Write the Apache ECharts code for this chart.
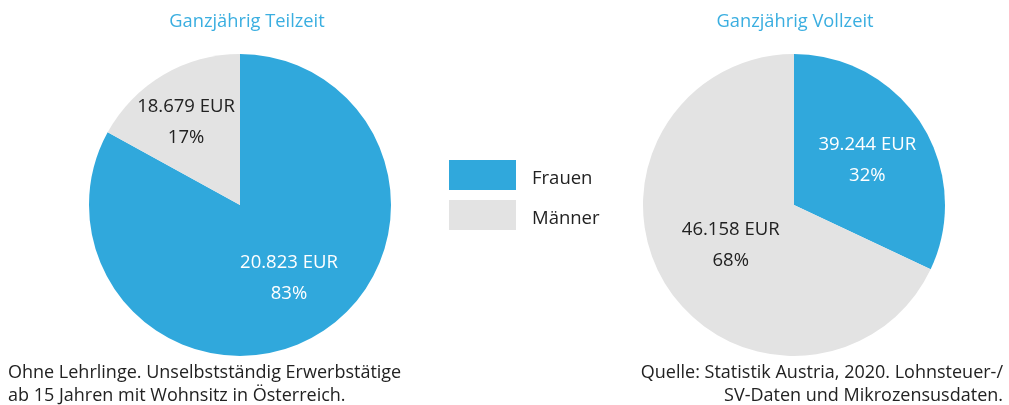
<!DOCTYPE html>
<html>
<head>
<meta charset="utf-8">
<script src="https://cdn.jsdelivr.net/npm/echarts@6/dist/echarts.min.js"></script>
<style>
  html, body { margin: 0; padding: 0; background: #fff; }
  #chart { width: 1009px; height: 405px; }
</style>
</head>
<body>
<div id="chart"></div>
<script>
// Daten
const categories = ['Frauen', 'Männer']
const titles = ['Ganzjährig Teilzeit', 'Ganzjährig Vollzeit']
const teilzeitShare = [83, 17]
const teilzeitEur = ['20.823 EUR', '18.679 EUR']
const vollzeitShare = [32, 68]
const vollzeitEur = ['39.244 EUR', '46.158 EUR']
const noteLeft = 'Ohne Lehrlinge. Unselbstständig Erwerbstätige\nab 15 Jahren mit Wohnsitz in Österreich.'
const noteRight = 'Quelle: Statistik Austria, 2020. Lohnsteuer-/\nSV-Daten und Mikrozensusdaten.'

const BLUE = '#30a8dc'
const GREY = '#e3e3e3'
const FONT = '"Open Sans", sans-serif'

// label offsets per slice (Frauen, Männer)
const offsetsLeft = [[9, 6], [-14, -15]]
const offsetsRight = [[7, -3], [3, -2]]

function makeData(shares, eur, offsets) {
  return shares.map((v, i) => ({
    name: categories[i],
    value: v,
    eur: eur[i],
    itemStyle: { color: i === 0 ? BLUE : GREY },
    label: {
      color: i === 0 ? '#ffffff' : '#222222',
      offset: offsets[i]
    }
  }))
}

function pieSeries(center, shares, eur, offsets) {
  return {
    type: 'pie',
    center: center,
    radius: 151,
    startAngle: 90,
    clockwise: true,
    silent: true,
    animation: false,
    labelLine: { show: false },
    label: {
      show: true,
      position: 'inside',
      fontFamily: FONT,
      fontSize: 18.5,
      lineHeight: 31,
      formatter: p => p.data.eur + '\n' + p.value + '%'
    },
    data: makeData(shares, eur, offsets)
  }
}

const chart = echarts.init(document.getElementById('chart'))
chart.setOption({
  backgroundColor: '#ffffff',
  title: [{
    text: titles[0],
    left: 247,
    top: 13,
    padding: 0,
    textAlign: 'center',
    textStyle: { color: '#3aaee0', fontFamily: FONT, fontSize: 18.3, fontWeight: 'normal' }
  }, {
    text: titles[1],
    left: 795,
    top: 13,
    padding: 0,
    textAlign: 'center',
    textStyle: { color: '#3aaee0', fontFamily: FONT, fontSize: 18.3, fontWeight: 'normal' }
  }, {
    text: noteLeft,
    left: 8,
    top: 361,
    padding: 0,
    textStyle: { color: '#222', fontFamily: FONT, fontSize: 18, fontWeight: 'normal', lineHeight: 23 }
  }, {
    text: noteRight,
    left: 1003,
    top: 361,
    padding: 0,
    textAlign: 'right',
    textStyle: { color: '#222', fontFamily: FONT, fontSize: 18, fontWeight: 'normal', lineHeight: 23, align: 'right' }
  }],
  legend: {
    data: categories,
    orient: 'vertical',
    left: 449,
    top: 160,
    padding: 0,
    itemWidth: 67,
    itemHeight: 30,
    itemGap: 10,
    icon: 'rect',
    selectedMode: false,
    formatter: name => '{t|' + name + '}',
    textStyle: {
      color: '#222',
      fontFamily: FONT,
      fontSize: 18.5,
      padding: [0, 0, 0, 11],
      rich: {
        t: { color: '#222', fontFamily: FONT, fontSize: 18.5, padding: [7, 0, 0, 0] }
      }
    }
  },
  series: [
    pieSeries([240, 205], teilzeitShare, teilzeitEur, offsetsLeft),
    pieSeries([794, 205], vollzeitShare, vollzeitEur, offsetsRight)
  ]
})
</script>
</body>
</html>
